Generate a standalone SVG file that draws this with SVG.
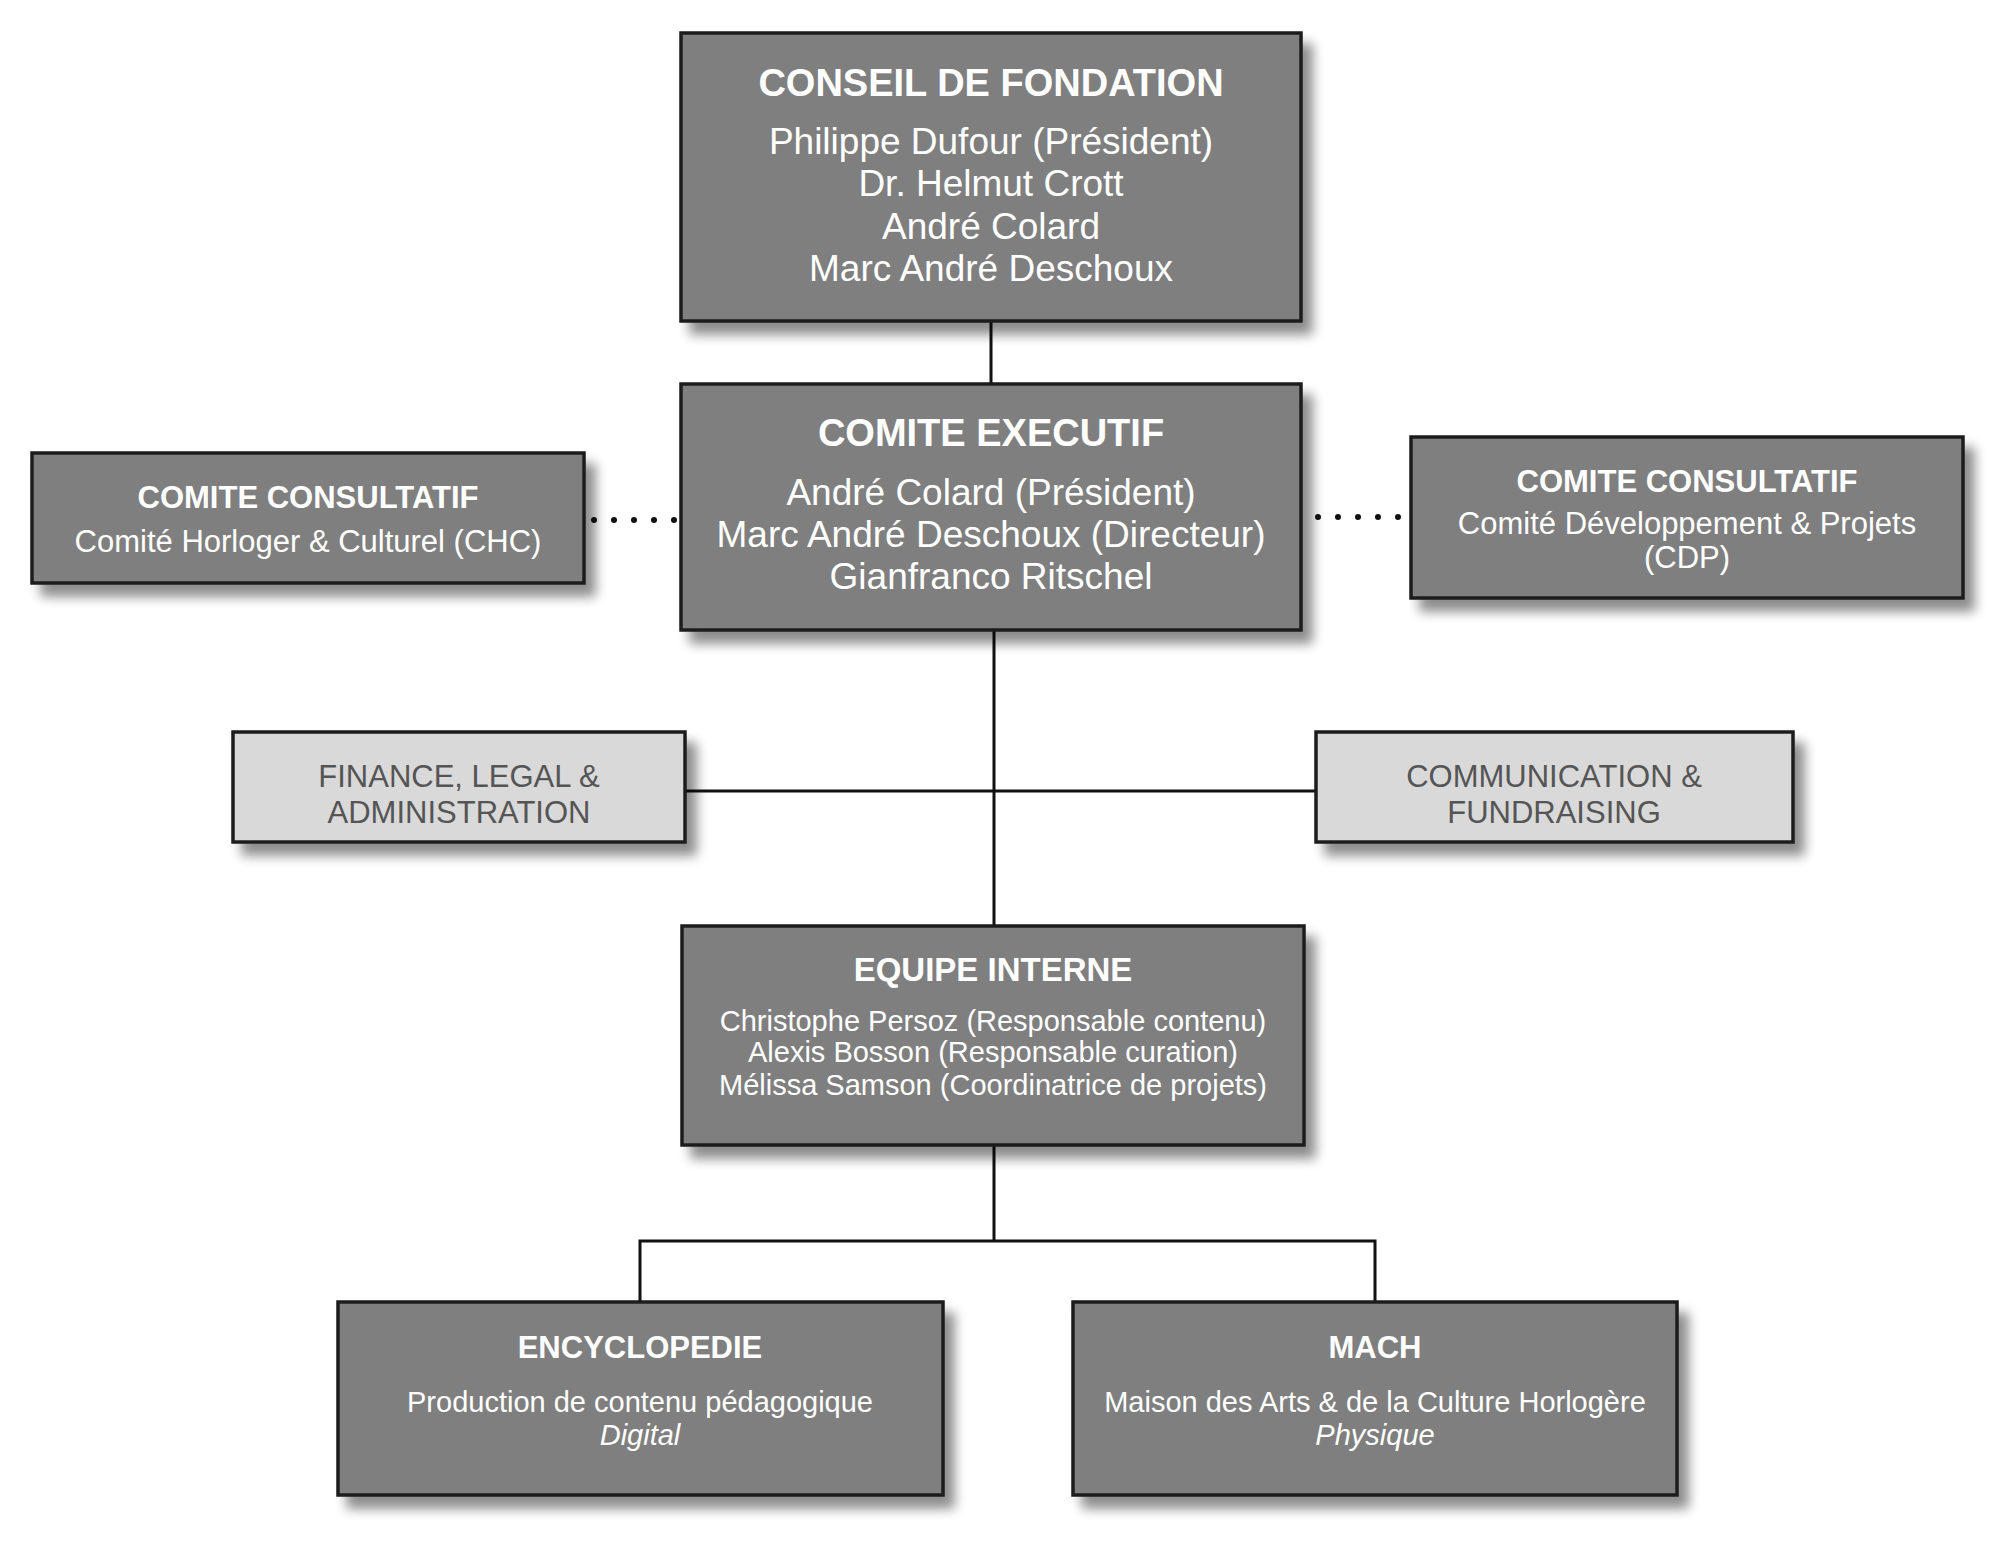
<svg xmlns="http://www.w3.org/2000/svg" width="2000" height="1554" viewBox="0 0 2000 1554">
<defs>
<filter id="sh" x="-10%" y="-10%" width="130%" height="140%"><feGaussianBlur in="SourceAlpha" stdDeviation="6"/><feOffset dx="10" dy="12"/><feComponentTransfer><feFuncA type="linear" slope="0.45"/></feComponentTransfer><feMerge><feMergeNode/><feMergeNode in="SourceGraphic"/></feMerge></filter>
</defs>
<style>
.d{fill:#7f7f7f;stroke:#1e1e1e;stroke-width:3.5;filter:url(#sh)}
.l{fill:#d9d9d9;stroke:#1e1e1e;stroke-width:3.5;filter:url(#sh)}
text{font-family:"Liberation Sans",Arial,sans-serif;text-anchor:middle;fill:#fff}
.t{font-weight:bold;font-size:38px}
.n{font-size:37px}
.st{font-weight:bold;font-size:31px}
.sn{font-size:31px}
.g{font-size:31px;fill:#555}
.e{font-size:29px}
.c{stroke:#111;stroke-width:3;fill:none}
.dot{stroke:#111;stroke-width:6;stroke-linecap:round;stroke-dasharray:0 20;fill:none}
</style>
<rect width="2000" height="1554" fill="#fff"/>
<g id="connectors">
<path class="c" d="M991 321V384M994 630V926M685 791H1316M994 1145V1241M640 1302V1241H1375V1302"/>
<path class="dot" d="M594 520H676M1318 517H1400"/>
</g>
<g id="conseil"><rect class="d" x="681" y="33" width="620" height="288"/>
<text class="t" x="991" y="96">CONSEIL DE FONDATION</text>
<text class="n" x="991" y="154">Philippe Dufour (Président)</text>
<text class="n" x="991" y="196">Dr. Helmut Crott</text>
<text class="n" x="991" y="239">André Colard</text>
<text class="n" x="991" y="281">Marc André Deschoux</text></g>
<g id="executif"><rect class="d" x="681" y="384" width="620" height="246"/>
<text class="t" x="991" y="446">COMITE EXECUTIF</text>
<text class="n" x="991" y="505">André Colard (Président)</text>
<text class="n" x="991" y="547">Marc André Deschoux (Directeur)</text>
<text class="n" x="991" y="589">Gianfranco Ritschel</text></g>
<g id="chc"><rect class="d" x="32" y="453" width="552" height="130"/>
<text class="st" x="308" y="508">COMITE CONSULTATIF</text>
<text class="sn" x="308" y="552">Comité Horloger &amp; Culturel (CHC)</text></g>
<g id="cdp"><rect class="d" x="1411" y="437" width="552" height="161"/>
<text class="st" x="1687" y="492">COMITE CONSULTATIF</text>
<text class="sn" x="1687" y="534">Comité Développement &amp; Projets</text>
<text class="sn" x="1687" y="568">(CDP)</text></g>
<g id="finance"><rect class="l" x="233" y="732" width="452" height="110"/>
<text class="g" x="459" y="787">FINANCE, LEGAL &amp;</text>
<text class="g" x="459" y="823">ADMINISTRATION</text></g>
<g id="communication"><rect class="l" x="1316" y="732" width="477" height="110"/>
<text class="g" x="1554" y="787">COMMUNICATION &amp;</text>
<text class="g" x="1554" y="823">FUNDRAISING</text></g>
<g id="equipe"><rect class="d" x="682" y="926" width="622" height="219"/>
<text class="st" x="993" y="981" style="font-size:33px">EQUIPE INTERNE</text>
<text class="e" x="993" y="1031">Christophe Persoz (Responsable contenu)</text>
<text class="e" x="993" y="1062">Alexis Bosson (Responsable curation)</text>
<text class="e" x="993" y="1095">Mélissa Samson (Coordinatrice de projets)</text></g>
<g id="encyclopedie"><rect class="d" x="338" y="1302" width="605" height="193"/>
<text class="st" x="640" y="1358">ENCYCLOPEDIE</text>
<text class="e" x="640" y="1412">Production de contenu pédagogique</text>
<text class="e" x="640" y="1445" font-style="italic">Digital</text></g>
<g id="mach"><rect class="d" x="1073" y="1302" width="604" height="193"/>
<text class="st" x="1375" y="1358">MACH</text>
<text class="e" x="1375" y="1412">Maison des Arts &amp; de la Culture Horlogère</text>
<text class="e" x="1375" y="1445" font-style="italic">Physique</text></g>
</svg>
